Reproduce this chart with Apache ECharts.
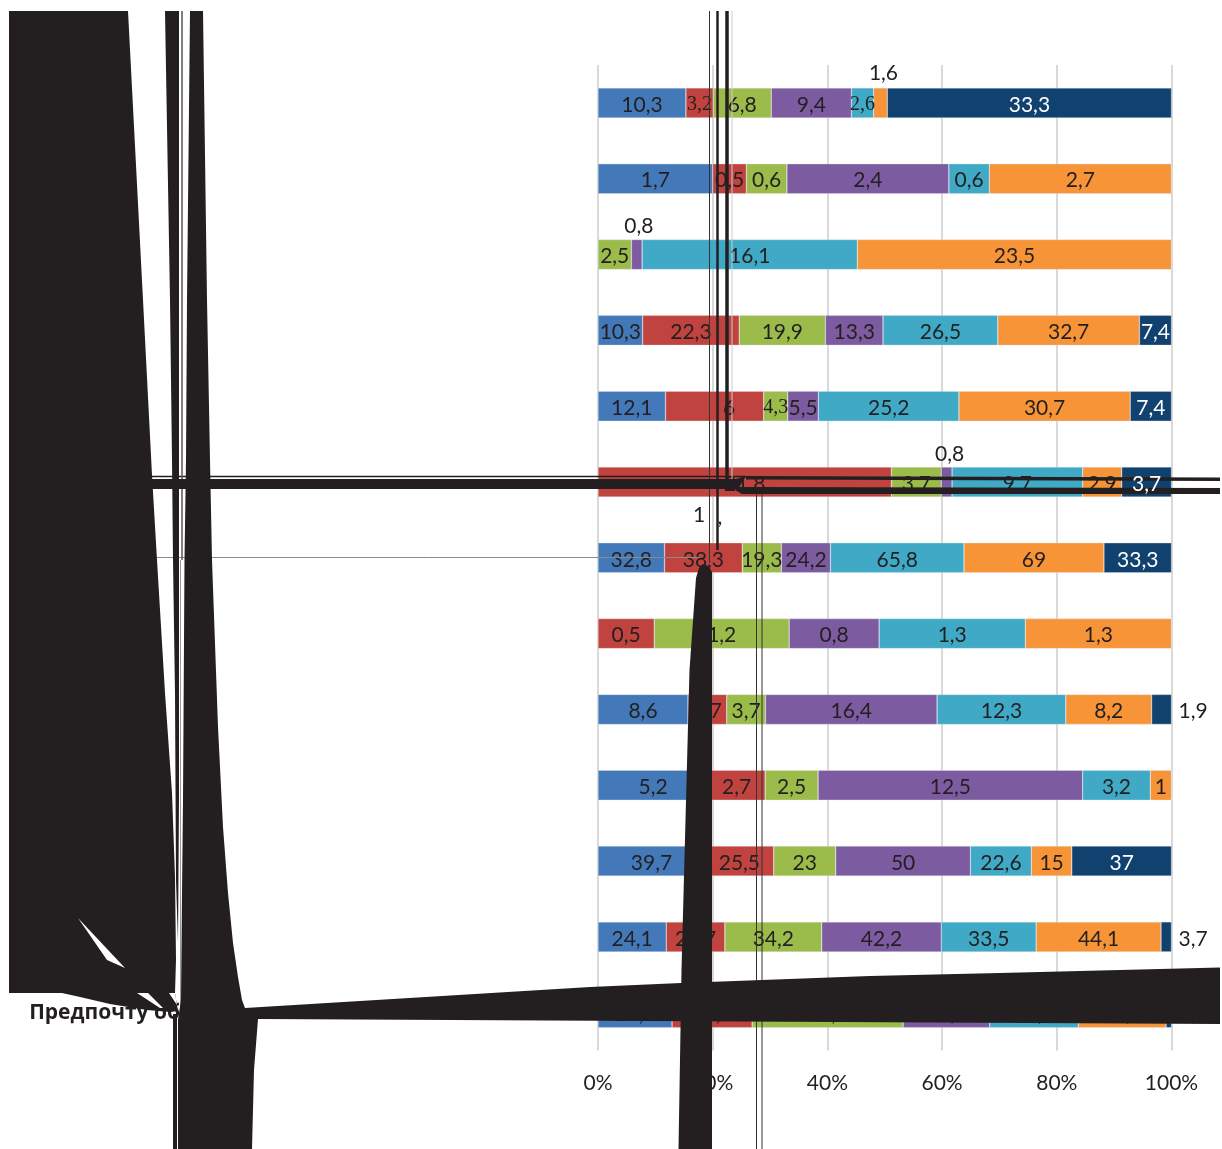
<!DOCTYPE html>
<html>
<head>
<meta charset="utf-8">
<style>html,body{margin:0;padding:0;background:#fff}#c{width:1222px;height:1149px}</style>
<script src="https://cdn.jsdelivr.net/npm/echarts@6/dist/echarts.min.js"></script>
</head>
<body>
<div id="c"></div>
<script>
// Row captions: only the last one is printed in the open.
const categories = ['', '', '', '', '', '', '', '', '', '', '', '', 'Предпочту об'];

// Answer shares per row, one array per response group.
const groupA = [10.3, 1.7, 0, 10.3, 12.1, 0, 32.8, 0, 8.6, 5.2, 39.7, 24.1, 25.8];
const groupB = [3.2, 0.5, 0, 22.3, 17.6, 21.8, 38.3, 0.5, 3.7, 2.7, 25.5, 20.7, 27.9];
const groupC = [6.8, 0.6, 2.5, 19.9, 4.3, 3.7, 19.3, 1.2, 3.7, 2.5, 23, 34.2, 52.6];
const groupD = [9.4, 2.4, 0.8, 13.3, 5.5, 0.8, 24.2, 0.8, 16.4, 12.5, 50, 42.2, 30.2];
const groupE = [2.6, 0.6, 16.1, 26.5, 25.2, 9.7, 65.8, 1.3, 12.3, 3.2, 22.6, 33.5, 30.8];
const groupF = [1.6, 2.7, 23.5, 32.7, 30.7, 2.9, 69, 1.3, 8.2, 1, 15, 44.1, 30.6];
const groupG = [33.3, 0, 0, 7.4, 7.4, 3.7, 33.3, 0, 1.9, 0, 37, 3.7, 1.9];

const groups = [groupA, groupB, groupC, groupD, groupE, groupF, groupG];
const colors = ['#4379b9', '#c0433f', '#9bbb4b', '#7d5ba0', '#3fa9c6', '#f79437', '#10416f'];

const INK = '#231f20';
const FONT = 'Lato';

// Labels set outside their thin segments: [group, row, placement].
const outsideLabels = [
  [5, 0, { position: 'top', distance: 5, offset: [3, 1] }],
  [3, 2, { position: 'top', distance: 5, offset: [2, 2] }],
  [3, 5, { position: 'top', distance: 5, offset: [3, 3] }],
  [6, 8, { position: 'right', distance: 7, offset: [0, 2] }],
  [6, 11, { position: 'right', distance: 7, offset: [0, 2] }],
  [6, 12, { position: 'right', distance: 7, offset: [0, 2] }]
];
// Labels squeezed into a narrow segment: [group, row].
const narrowLabels = [[1, 0], [4, 0], [2, 4]];

const rowTotals = categories.map((_, r) => groups.reduce((sum, g) => sum + g[r], 0));
const fmt = v => String(v).replace('.', ',');

const series = groups.map((values, g) => ({
  type: 'bar',
  stack: 'share',
  barWidth: 30,
  itemStyle: { color: colors[g], borderColor: 'rgba(225,230,238,0.7)', borderWidth: 0.5 },
  label: {
    show: true,
    position: 'inside',
    offset: [0, 2],
    fontFamily: FONT,
    fontSize: 21,
    color: g === 6 ? '#ffffff' : INK,
    formatter: p => fmt(p.data.raw)
  },
  data: values.map((v, r) => {
    const item = { value: v / rowTotals[r] * 100, raw: v };
    if (!v) item.label = { show: false };
    // The navy label in the crossed row is printed on top of the strokes instead.
    if (g === 6 && r === 5) item.label = { show: false };
    const out = outsideLabels.find(o => o[0] === g && o[1] === r);
    if (out) item.label = Object.assign({ color: INK }, out[2]);
    if (narrowLabels.some(n => n[0] === g && n[1] === r)) {
      item.label = { fontFamily: 'Liberation Sans Narrow', fontSize: 20 };
    }
    return item;
  })
}));

// Heavy ink strokes that run across the sheet above the plot.
const inkShapes = [
  [[9,11],[128,11],[143,300],[152,475],[157,560],[165,693],[172,793],[175,877],[176,960],[175,993],[178,1011],[170,1012],[147,1010],[110,1004],[80,997],[62,993],[9,993]],
  [[165,11],[179,11],[179,560],[179,800],[178,943],[176,880],[175,693],[173,560],[172,460],[170,300]],
  [[190,11],[203,11],[207,300],[210,460],[212,560],[218,727],[223,827],[228,893],[233,943],[238,977],[242,1000],[245,1008],[590,987],[681,983],[870,976],[1000,973],[1220,967.5],[1220,1024],[258,1019],[254,1070],[252,1149],[178,1149],[178,1020],[181,1000],[182,893],[183,800],[184.5,560],[186,460],[187,300]],
  [[173,1014],[177,1014],[177,1149],[173,1149]],
  [[696,578],[699,568],[703,564],[708,566],[712,572],[712,1149],[678.5,1149],[681.5,970],[689.5,670]],
  [[150,479],[736,479],[746,476],[738,489],[150,489]],
  [[746,476],[1220,477.5],[1220,481],[746,479.5]],
  [[738,487],[1220,488],[1220,494],[742,494],[735,490]],
  [[725,488],[735,488],[734,491],[725,491]]
];
const paperGaps = [
  [[78,918],[125,968],[107,960]],
  [[137,993],[148,993],[163,1008],[160,1008]],
  [[169,993],[175,993],[177,1005]]
];
// Red patches over the leading figures of the second segment in rows five and six.
const redPatches = [
  [[690,392],[723,392],[723,420],[690,420]],
  [[726,470],[747,470],[747,477],[726,477]]
];
// Hairlines: [x1, y1, x2, y2, width, colour].
const inkLines = [
  [150, 476.5, 746, 476.5, 1.5, INK],
  [155, 557.5, 700, 557.5, 1, '#8a8a8a'],
  [709.5, 11, 709.5, 563, 1, '#333333'],
  [717.5, 11, 717.5, 550, 2.5, INK],
  [727, 11, 727, 484, 3.5, INK],
  [732, 11, 732, 490, 1, '#cccccc'],
  [756.5, 493, 756.5, 1149, 1, '#333333'],
  [762, 493, 762, 1149, 1, '#333333'],
  [182, 11, 182, 560, 1.5, '#555555'],
  [180.5, 560, 180.5, 1015, 1, '#999999']
];
// Stray figures left around the strokes: [text, x, y].
const strayText = [['1', 699, 515], [',', 720, 517]];

const poly = (points, fill, z) => ({
  type: 'polygon', silent: true, z, shape: { points }, style: { fill }
});
const baseGraphic = [
  ...redPatches.map(p => poly(p, colors[1], 98)),
  ...inkLines.map(([x1, y1, x2, y2, w, c]) => ({
    type: 'line', silent: true, z: 100,
    shape: { x1, y1, x2, y2 }, style: { stroke: c, lineWidth: w }
  })),
  ...inkShapes.map(p => poly(p, INK, 101)),
  ...paperGaps.map(p => poly(p, '#ffffff', 102)),
  ...strayText.map(([t, x, y]) => ({
    type: 'text', silent: true, z: 99, x, y,
    style: { text: t, fill: INK, font: '21px ' + FONT, align: 'center', verticalAlign: 'middle' }
  }))
];

const chart = echarts.init(document.getElementById('c'), null, { renderer: 'canvas' });
chart.setOption({
  animation: false,
  backgroundColor: '#ffffff',
  grid: { left: 598, top: 65, width: 573.5, height: 985.6, containLabel: false },
  xAxis: {
    type: 'value', min: 0, max: 100, interval: 20,
    axisLine: { show: false }, axisTick: { show: false },
    axisLabel: { formatter: '{value}%', fontFamily: FONT, fontSize: 21, color: INK, margin: 22 },
    splitLine: { show: true, lineStyle: { color: '#d9d9d9', width: 2 } }
  },
  yAxis: {
    type: 'category', inverse: true, data: categories,
    axisLine: { show: false }, axisTick: { show: false },
    axisLabel: {
      interval: 0, margin: 418, align: 'right', padding: [4, 0, 0, 0],
      fontFamily: 'Open Sans', fontWeight: 'bold', fontSize: 21, color: INK
    }
  },
  series,
  graphic: baseGraphic
});

// The navy figure of the crossed row sits above the strokes, centred on its own segment.
const crossedRow = 5;
const before = groups.slice(0, 6).reduce((sum, g) => sum + g[crossedRow], 0);
const mid = (before + groupG[crossedRow] / 2) / rowTotals[crossedRow] * 100;
const [cx, cy] = chart.convertToPixel({ gridIndex: 0 }, [mid, crossedRow]);
chart.setOption({
  graphic: [...baseGraphic, {
    type: 'text', silent: true, z: 110, x: cx, y: cy + 2,
    style: { text: fmt(groupG[crossedRow]), fill: '#ffffff', font: '21px ' + FONT, align: 'center', verticalAlign: 'middle' }
  }]
});
</script>
</body>
</html>
